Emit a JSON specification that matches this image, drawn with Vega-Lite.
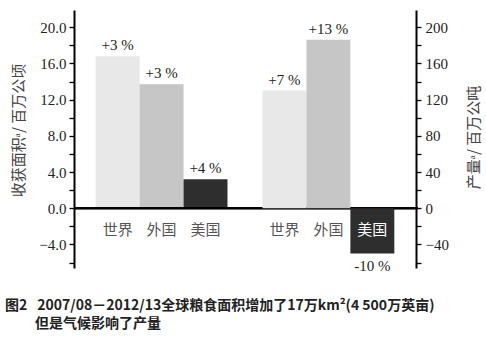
{
  "$schema": "https://vega.github.io/schema/vega-lite/v6.json",
  "autosize": {"type": "none"},
  "width": 342,
  "height": 258,
  "padding": {"left": 74, "top": 10, "right": 70, "bottom": 74},
  "background": "white",
  "config": {"view": {"stroke": null}},
  "title": {
    "text": ["图2\u28002007/08－2012/13全球粮食面积增加了17万km²(4 500万英亩)", "\u2800\u2800\u2800但是气候影响了产量"],
    "orient": "bottom",
    "anchor": "start",
    "frame": "group",
    "dx": -69,
    "offset": 25,
    "font": "Noto Sans CJK SC",
    "fontSize": 14,
    "fontWeight": "bold",
    "color": "#222",
    "lineHeight": 18
  },
  "data": {
    "values": [
      {"group": "area", "country": "世界", "value": 16.8, "pct": "+3 %"},
      {"group": "area", "country": "外国", "value": 13.7, "pct": "+3 %"},
      {"group": "area", "country": "美国", "value": 3.2, "pct": "+4 %"},
      {"group": "prod", "country": "世界", "value": 130, "pct": "+7 %"},
      {"group": "prod", "country": "外国", "value": 186, "pct": "+13 %"},
      {"group": "prod", "country": "美国", "value": -50, "pct": "-10 %"}
    ]
  },
  "encoding": {
    "x": {"field": "group", "type": "nominal", "axis": null,
          "scale": {"domain": ["area", "prod"], "paddingInner": 0.21, "paddingOuter": 0.13}},
    "xOffset": {"field": "country", "type": "nominal",
                "scale": {"domain": ["世界", "外国", "美国"], "paddingInner": 0, "paddingOuter": 0}}
  },
  "layer": [
    {
      "transform": [{"filter": "datum.group === 'area'"}],
      "encoding": {
        "y": {"field": "value", "type": "quantitative",
              "scale": {"domain": [-6.6, 21.9], "nice": false, "zero": false},
              "axis": {
                "orient": "left",
                "title": "收获面积ᵃ/ 百万公顷",
                "values": [-6, -4, -2, 0, 2, 4, 6, 8, 10, 12, 14, 16, 18, 20],
                "labelExpr": "datum.value % 4 === 0 ? format(datum.value, '.1f') : ''",
                "grid": false,
                "domainColor": "#000", "domainWidth": 2,
                "tickColor": "#000", "tickWidth": 1.3, "tickSize": 5,
                "labelFont": "Liberation Serif", "labelFontSize": 15, "labelColor": "#222",
                "labelPadding": 3,
                "titleFont": "Noto Sans CJK SC", "titleFontSize": 15, "titleFontWeight": "normal",
                "titleColor": "#444", "titleX": -56, "titleY": 120, "titleAngle": 270,
                "titleBaseline": "middle", "titleAlign": "center"
              }}
      },
      "layer": [
        {"mark": {"type": "bar", "width": {"band": 1}},
         "encoding": {"color": {"field": "country", "type": "nominal", "legend": null,
           "scale": {"domain": ["世界", "外国", "美国"], "range": ["#e8e8e8", "#c6c6c6", "#2e2e2e"]}}}},
        {"mark": {"type": "text", "baseline": "bottom", "dy": -3, "font": "Liberation Serif", "fontSize": 15, "color": "#222"},
         "encoding": {"text": {"field": "pct"}}},
        {"mark": {"type": "text", "baseline": "middle", "font": "Noto Sans CJK SC", "fontSize": 15, "color": "#555"},
         "encoding": {"text": {"field": "country"}, "y": {"datum": -2.4}}},
        {"mark": {"type": "rule", "color": "#000", "strokeWidth": 2},
         "encoding": {"y": {"datum": 0}, "x": {"value": 0}, "x2": {"value": 344}, "xOffset": {"value": 0}}}
      ]
    },
    {
      "transform": [{"filter": "datum.group === 'prod'"}],
      "encoding": {
        "y": {"field": "value", "type": "quantitative",
              "scale": {"domain": [-66, 219], "nice": false, "zero": false},
              "axis": {
                "orient": "right",
                "title": "产量ᵃ/ 百万公吨",
                "values": [-60, -40, -20, 0, 20, 40, 60, 80, 100, 120, 140, 160, 180, 200],
                "labelExpr": "datum.value % 40 === 0 ? format(datum.value, 'd') : ''",
                "grid": false,
                "domainColor": "#000", "domainWidth": 2,
                "tickColor": "#000", "tickWidth": 1.3, "tickSize": 5,
                "labelFont": "Liberation Serif", "labelFontSize": 15, "labelColor": "#222",
                "labelPadding": 4,
                "titleFont": "Noto Sans CJK SC", "titleFontSize": 15, "titleFontWeight": "normal",
                "titleColor": "#444", "titleX": 57, "titleY": 127, "titleAngle": 270,
                "titleBaseline": "middle", "titleAlign": "center"
              }}
      },
      "layer": [
        {"mark": {"type": "bar", "width": {"band": 1}},
         "encoding": {"color": {"field": "country", "type": "nominal", "legend": null,
           "scale": {"domain": ["世界", "外国", "美国"], "range": ["#e8e8e8", "#c6c6c6", "#2e2e2e"]}}}},
        {"mark": {"type": "text", "baseline": "bottom", "dy": -3, "font": "Liberation Serif", "fontSize": 15, "color": "#222"},
         "transform": [{"filter": "datum.value >= 0"}],
         "encoding": {"text": {"field": "pct"}}},
        {"mark": {"type": "text", "baseline": "top", "dy": 5, "font": "Liberation Serif", "fontSize": 15, "color": "#222"},
         "transform": [{"filter": "datum.value < 0"}],
         "encoding": {"text": {"field": "pct"}}},
        {"mark": {"type": "text", "baseline": "middle", "font": "Noto Sans CJK SC", "fontSize": 15},
         "encoding": {"text": {"field": "country"}, "y": {"datum": -24},
           "color": {"condition": {"test": "datum.value < 0", "value": "#ffffff"}, "value": "#555"}}}
      ]
    }
  ],
  "resolve": {"scale": {"y": "independent"}, "axis": {"y": "independent"}}
}
